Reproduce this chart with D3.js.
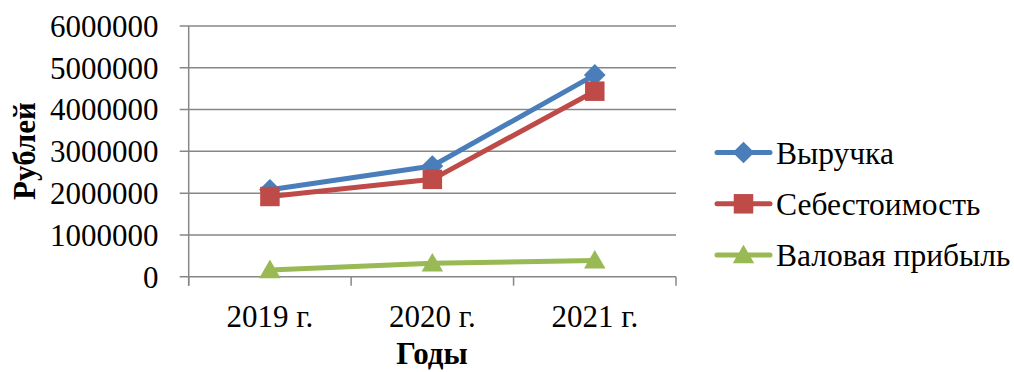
<!DOCTYPE html>
<html>
<head>
<meta charset="utf-8">
<script src="https://cdn.jsdelivr.net/npm/d3@7"></script>
<style>
  html, body { margin: 0; padding: 0; background: #fff; }
</style>
</head>
<body>
<svg id="chart" width="1014" height="372"></svg>
<script>
// Data
const years = ["2019 г.", "2020 г.", "2021 г."];
const revenue = [2080000, 2650000, 4830000];
const cost = [1920000, 2330000, 4440000];
const grossProfit = [160000, 320000, 390000];
const seriesNames = ["Выручка", "Себестоимость", "Валовая прибыль"];
const yTicks = [0, 1000000, 2000000, 3000000, 4000000, 5000000, 6000000];

const FONT = "'Liberation Serif', 'Times New Roman', serif";

const series = [
  { name: seriesNames[0], values: revenue, color: "#4A7EBB", marker: "diamond" },
  { name: seriesNames[1], values: cost, color: "#BE4B48", marker: "square" },
  { name: seriesNames[2], values: grossProfit, color: "#98B954", marker: "triangle" }
];

const svg = d3.select("#chart");
const plot = { left: 188.7, right: 676, top: 26, bottom: 276.7 };

const x = d3.scaleBand().domain(years).range([plot.left, plot.right]).padding(0);
const y = d3.scaleLinear().domain([0, 6000000]).range([plot.bottom, plot.top]);

const gridColor = "#878787";

// Horizontal gridlines with short ticks left of the axis
svg.append("g").selectAll("line").data(yTicks).join("line")
  .attr("x1", plot.left - 9).attr("x2", plot.right)
  .attr("y1", d => y(d)).attr("y2", d => y(d))
  .attr("stroke", gridColor).attr("stroke-width", 1.5);

// Y axis line
svg.append("line")
  .attr("x1", plot.left).attr("x2", plot.left)
  .attr("y1", plot.top).attr("y2", plot.bottom + 9)
  .attr("stroke", gridColor).attr("stroke-width", 1.5);

// X axis category boundary ticks
const bounds = years.map(d => x(d)).concat([plot.right]);
svg.append("g").selectAll("line").data(bounds).join("line")
  .attr("x1", d => d).attr("x2", d => d)
  .attr("y1", plot.bottom).attr("y2", plot.bottom + 9)
  .attr("stroke", gridColor).attr("stroke-width", 1.5);

// Y tick labels
svg.append("g").selectAll("text").data(yTicks).join("text")
  .attr("x", 158.5).attr("y", d => y(d))
  .attr("dy", "0.35em")
  .attr("text-anchor", "end")
  .attr("font-family", FONT)
  .attr("font-size", 31)
  .text(d => d3.format("d")(d));

// X tick labels
svg.append("g").selectAll("text").data(years).join("text")
  .attr("x", d => x(d) + x.bandwidth() / 2).attr("y", 326.7)
  .attr("text-anchor", "middle")
  .attr("font-family", FONT)
  .attr("font-size", 31)
  .text(d => d);

// Axis titles
svg.append("text")
  .attr("x", 432).attr("y", 364)
  .attr("text-anchor", "middle")
  .attr("font-family", FONT)
  .attr("font-size", 31).attr("font-weight", "bold")
  .text("Годы");

svg.append("text")
  .attr("transform", "translate(35,151) rotate(-90)")
  .attr("text-anchor", "middle")
  .attr("font-family", FONT)
  .attr("font-size", 31).attr("font-weight", "bold")
  .text("Рублей");

// Series lines and markers
const cx = i => x(years[i]) + x.bandwidth() / 2;
const line = d3.line().x((d, i) => cx(i)).y(d => y(d));

function markerPath(kind) {
  if (kind === "square") return d3.symbol(d3.symbolSquare, 380)();
  if (kind === "triangle") return d3.symbol(d3.symbolTriangle, 200)();
  return d3.symbol(d3.symbolDiamond2, 300)();
}
const markerShift = kind => (kind === "triangle" ? 2 : 0);

series.forEach(s => {
  const g = svg.append("g");
  g.append("path")
    .attr("d", line(s.values))
    .attr("fill", "none")
    .attr("stroke", s.color)
    .attr("stroke-width", 5)
    .attr("stroke-linejoin", "round");
  g.selectAll("path.m").data(s.values).join("path")
    .attr("class", "m")
    .attr("transform", (d, i) => `translate(${cx(i)},${y(d) + markerShift(s.marker)})`)
    .attr("d", markerPath(s.marker))
    .attr("fill", s.color);
});

// Legend
const legend = svg.append("g");
series.forEach((s, i) => {
  const ly = 152.5 + i * 51.3;
  const g = legend.append("g");
  g.append("line")
    .attr("x1", 717).attr("x2", 770).attr("y1", ly).attr("y2", ly)
    .attr("stroke", s.color).attr("stroke-width", 5).attr("stroke-linecap", "round");
  g.append("path")
    .attr("transform", `translate(743.5,${ly + markerShift(s.marker)})`)
    .attr("d", markerPath(s.marker))
    .attr("fill", s.color);
  g.append("text")
    .attr("x", 776).attr("y", ly + 11)
    .attr("font-family", FONT)
    .attr("font-size", 31.5)
    .text(s.name);
});
</script>
</body>
</html>
